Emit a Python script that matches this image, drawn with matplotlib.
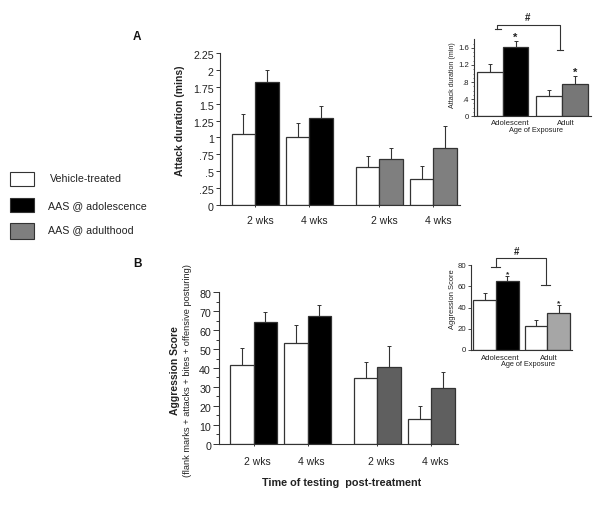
"""Recreate the two-panel attack duration / aggression score bar figure."""

import matplotlib
matplotlib.use("Agg")
import matplotlib.pyplot as plt
from matplotlib.patches import Rectangle
from matplotlib.transforms import ScaledTranslation

plt.rcParams["font.family"] = ["Liberation Sans", "DejaVu Sans"]

W, H = 600, 507
INK = "#222222"
EDGE = "#333333"

# Panel A
week_labels = ["2 wks", "4 wks", "2 wks", "4 wks"]
a_vehicle = [1.05, 1.00, 0.56, 0.39]
a_vehicle_top = [1.34, 1.21, 0.73, 0.58]
a_aas = [1.815, 1.29, 0.68, 0.84]
a_aas_top = [2.00, 1.46, 0.85, 1.17]
a_ticks = [0, .25, .5, .75, 1, 1.25, 1.5, 1.75, 2, 2.25]
a_tick_labels = ["0", ".25", ".5", ".75", "1", "1.25", "1.5", "1.75", "2", "2.25"]

# Panel B
b_vehicle = [41.4, 53.0, 34.9, 13.2]
b_vehicle_top = [50.4, 62.5, 43.0, 19.7]
b_aas = [64.1, 67.6, 40.7, 29.2]
b_aas_top = [69.4, 73.1, 51.6, 38.0]
b_ticks = [0, 10, 20, 30, 40, 50, 60, 70, 80]

# Insets
age_labels = ["Adolescent", "Adult"]
ia_vehicle = [1.04, 0.47]
ia_vehicle_top = [1.22, 0.61]
ia_aas = [1.61, 0.75]
ia_aas_top = [1.75, 0.94]
ia_ticks = [0, .4, .8, 1.2, 1.6]
ia_tick_labels = ["0", ".4", ".8", "1.2", "1.6"]
ib_vehicle = [47, 22.7]
ib_vehicle_top = [53.5, 28.4]
ib_aas = [64.9, 35]
ib_aas_top = [70, 42.5]
ib_ticks = [0, 20, 40, 60, 80]

main_groups = [0, 1, 2.29, 3.285]
inset_groups = [0, 1]


def px_axes(fig, left, right, top, bottom):
    ax = fig.add_axes([left / W, 1 - bottom / H, (right - left) / W, (bottom - top) / H])
    ax.patch.set_alpha(0)
    ax.spines[["top", "right"]].set_visible(False)
    ax.spines[["left", "bottom"]].set_linewidth(0.8)
    ax.spines[["left", "bottom"]].set_color(EDGE)
    return ax


def nudge(labels, fig, dx, dy):
    """Shift tick labels by a few pixels."""
    offset = ScaledTranslation(dx / fig.dpi, dy / fig.dpi, fig.dpi_scale_trans)
    for label in labels:
        label.set_transform(label.get_transform() + offset)


def paired_bars(ax, groups, width, vehicle, vehicle_top, aas, aas_top, aas_colors, lw=0.9):
    """Draw white/coloured bar pairs with upper error bars only."""
    for g, v, vt, a, at, c in zip(groups, vehicle, vehicle_top, aas, aas_top, aas_colors):
        ax.errorbar(g - width / 2, v, yerr=[[0], [vt - v]], color=EDGE, lw=0.8,
                    capsize=1.3, capthick=0.7, zorder=1)
        ax.errorbar(g + width / 2, a, yerr=[[0], [at - a]], color=EDGE, lw=0.8,
                    capsize=1.3, capthick=0.7, zorder=1)
        ax.bar(g - width / 2, v, width, color="white", edgecolor=EDGE, lw=lw, zorder=2)
        ax.bar(g + width / 2, a, width, color=c, edgecolor=EDGE, lw=lw, zorder=2)


def stars(ax, width, tops, shift, fontsize):
    """Mark each coloured inset bar with an asterisk above its error bar."""
    for g, top in zip(inset_groups, tops):
        ax.text(g + width / 2, top + shift, "*", ha="center", va="bottom",
                fontsize=fontsize, fontweight="bold", color=INK)


def main():
    fig = plt.figure(figsize=(W / 100, H / 100), dpi=100)

    # overlay in image pixels for legend, panel letters and brackets
    overlay = fig.add_axes([0, 0, 1, 1])
    overlay.set_xlim(0, W)
    overlay.set_ylim(H, 0)
    overlay.axis("off")

    # panel A
    ax = px_axes(fig, 220, 460, 53, 205)
    paired_bars(ax, main_groups, 0.433, a_vehicle, a_vehicle_top, a_aas, a_aas_top,
                ["black", "black", "#7f7f7f", "#7f7f7f"])
    ax.set_xlim(-0.645, 3.775)
    ax.set_ylim(0, 2.25)
    ax.set_yticks(a_ticks, a_tick_labels, fontsize=7.7, color=INK)
    ax.set_xticks(main_groups, week_labels, fontsize=7.5, color=INK)
    ax.tick_params(axis="y", length=3, width=0.7, pad=1.5, color=EDGE)
    ax.tick_params(axis="x", length=1.5, width=0.7, pad=6.5, color=EDGE)
    nudge(ax.get_yticklabels(), fig, 0, -2)
    nudge(ax.get_xticklabels(), fig, 5, 0)
    overlay.text(180, 120.5, "Attack duration (mins)", rotation=90, ha="center", va="center",
                 fontsize=7.5, fontweight="bold", color=INK)

    # panel B
    ax = px_axes(fig, 218.7, 458, 292.3, 443.7)
    paired_bars(ax, main_groups, 0.433, b_vehicle, b_vehicle_top, b_aas, b_aas_top,
                ["black", "black", "#5f5f5f", "#5f5f5f"])
    ax.set_xlim(-0.648, 3.78)
    ax.set_ylim(0, 80)
    ax.set_yticks(b_ticks)
    ax.set_yticks([t + 5 for t in b_ticks[:-1]], minor=True)
    ax.set_yticklabels([str(t) for t in b_ticks], fontsize=7.7, color=INK)
    ax.set_xticks(main_groups, week_labels, fontsize=7.5, color=INK)
    ax.tick_params(axis="y", which="major", length=4, width=0.7, pad=1.5, color=EDGE)
    ax.tick_params(axis="y", which="minor", length=2, width=0.7, color=EDGE)
    ax.tick_params(axis="x", length=1.5, width=0.7, pad=8, color=EDGE)
    nudge(ax.get_yticklabels(), fig, 0, -2)
    nudge(ax.get_xticklabels(), fig, 4, 0)
    overlay.text(175, 371, "Aggression Score", rotation=90, ha="center", va="center",
                 fontsize=7.5, fontweight="bold", color=INK)
    overlay.text(188, 371, "(flank marks + attacks + bites + offensive posturing)", rotation=90,
                 ha="center", va="center", fontsize=6.65, color=INK)
    overlay.text(342, 483, "Time of testing  post-treatment", ha="center", va="center",
                 fontsize=7.8, fontweight="bold", color=INK)

    # inset A
    ax = px_axes(fig, 474, 591, 39.3, 116.3)
    paired_bars(ax, inset_groups, 0.433, ia_vehicle, ia_vehicle_top, ia_aas, ia_aas_top,
                ["black", "#777777"])
    ax.set_xlim(-0.484, 1.489)
    ax.set_ylim(0, 1.8)
    ax.set_yticks(ia_ticks, ia_tick_labels, fontsize=5.6, color=INK)
    ax.set_yticks([t / 10 for t in range(1, 18)], minor=True)
    ax.set_xticks(inset_groups, age_labels, fontsize=5.6, color=INK)
    ax.tick_params(axis="y", which="major", length=2, width=0.6, pad=1.5, color=EDGE)
    ax.tick_params(axis="y", which="minor", length=1, width=0.5, color=EDGE)
    ax.tick_params(axis="x", length=0, pad=3)
    adolescent, adult = ax.get_xticklabels()
    nudge([adolescent], fig, 8, 0)
    nudge([adult], fig, 4, 0)
    stars(ax, 0.433, ia_aas_top, -0.04, 8)
    overlay.text(536, 130.5, "Age of Exposure", ha="center", va="center", fontsize=5.3, color=INK)
    overlay.text(452, 75, "Attack duration (min)", rotation=90, ha="center", va="center",
                 fontsize=5.1, color=INK)

    # inset B
    ax = px_axes(fig, 471.3, 572, 265.3, 350)
    paired_bars(ax, inset_groups, 0.44, ib_vehicle, ib_vehicle_top, ib_aas, ib_aas_top,
                ["black", "#a6a6a6"])
    ax.set_xlim(-0.481, 1.48)
    ax.set_ylim(0, 80)
    ax.set_yticks(ib_ticks, [str(t) for t in ib_ticks], fontsize=5.6, color=INK)
    ax.set_xticks(inset_groups, age_labels, fontsize=5.6, color=INK)
    ax.tick_params(axis="y", length=2, width=0.6, pad=1.5, color=EDGE)
    ax.tick_params(axis="x", length=0, pad=3.5)
    adolescent, adult = ax.get_xticklabels()
    nudge([adolescent], fig, 4, 0)
    nudge([adult], fig, 2, 0)
    stars(ax, 0.44, ib_aas_top, -1.8, 6)
    overlay.text(528, 365, "Age of Exposure", ha="center", va="center", fontsize=5.3, color=INK)
    overlay.text(452.5, 299.5, "Aggression Score", rotation=90, ha="center", va="center",
                 fontsize=5.4, color=INK)

    # significance brackets
    overlay.plot([496.7, 496.7, 560, 560], [29, 25.3, 25.3, 50.3], color=EDGE, lw=0.8)
    overlay.plot([495, 501], [29, 29], color=EDGE, lw=0.8)
    overlay.plot([556.7, 563], [50.3, 50.3], color=EDGE, lw=0.8)
    overlay.text(527.7, 18, "#", ha="center", va="center", fontsize=7, fontweight="bold", color=INK)
    overlay.plot([495.7, 495.7, 545.7, 545.7], [267.3, 258.3, 258.3, 285], color=EDGE, lw=0.8)
    overlay.plot([491, 500], [267.3, 267.3], color=EDGE, lw=0.8)
    overlay.plot([540.7, 550], [285, 285], color=EDGE, lw=0.8)
    overlay.text(516.7, 252, "#", ha="center", va="center", fontsize=7, fontweight="bold", color=INK)

    # panel letters
    overlay.text(137, 37, "A", ha="center", va="center", fontsize=8.5, fontweight="bold", color="#111111")
    overlay.text(138, 264, "B", ha="center", va="center", fontsize=8.5, fontweight="bold", color="#111111")

    # legend
    legend_rows = [
        ("white", 172.3, 185.7, 50, 179.3, "Vehicle-treated"),
        ("black", 198.3, 212.3, 48, 205.7, "AAS @ adolescence"),
        ("#7f7f7f", 223.3, 239, 48, 230, "AAS @ adulthood"),
    ]
    for color, y0, y1, tx, ty, text in legend_rows:
        overlay.add_patch(Rectangle((10, y0), 23.7, y1 - y0, facecolor=color, edgecolor=EDGE, lw=0.8))
        overlay.text(tx, ty, text, ha="left", va="center", fontsize=7.7, color=INK)

    fig.savefig("out.png", dpi=100)


if __name__ == "__main__":
    main()
